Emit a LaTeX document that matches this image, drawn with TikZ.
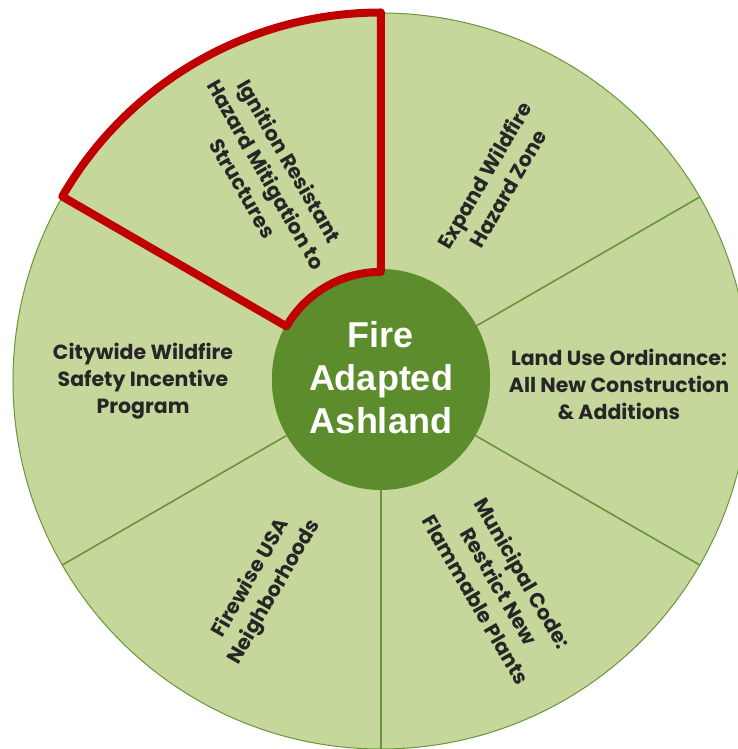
\documentclass[tikz,border=0pt]{standalone}
\usepackage{fontspec}
\setmainfont{Poppins}
\newfontfamily\hubfont{Liberation Sans}
\usepackage{xcolor}
\definecolor{leafgreen}{RGB}{197,215,155}
\definecolor{mossgreen}{RGB}{92,140,44}
\definecolor{spokegreen}{RGB}{104,150,58}
\definecolor{alertred}{RGB}{192,0,0}
\tikzset{
	x=1pt, y=1pt,
	rim/.style={circle, draw=spokegreen, line width=1pt, fill=leafgreen,
		minimum size=736pt, inner sep=0pt}, % the outer wheel
	hub/.style={circle, fill=mossgreen, minimum size=218pt, inner sep=0pt,
		text=white, align=center, font=\hubfont\bfseries\fontsize{36}{43}\selectfont},
	spoke/.style={draw=spokegreen, line width=1.6pt},
	topic/.style={align=center, text=black!85, font=\bfseries\fontsize{20.5}{27}\selectfont},
	highlight/.style={draw=alertred, line width=8pt, line join=round}, % marks the chosen sector
}

\begin{document}
\begin{tikzpicture}
	\useasboundingbox (-381,-368) rectangle (357,381);
	\clip (-381,-368) rectangle (357,381);

	\node[rim] (rim) at (0,0) {};
	\node[hub] (hub) at (0,0) {};
	\foreach \a in {90,30,-30,-90,-150,150}
		\draw[spoke] (hub.\a) -- (rim.\a);
	\node[hub] (core) at (0,3) {Fire\\Adapted\\Ashland};

	\draw[highlight] (rim.90) arc[start angle=90, end angle=150, radius=368]
		-- (hub.150) arc[start angle=150, end angle=90, radius=109] -- cycle;

	\node[topic, rotate=-60] (ignition) at (119:236) {Ignition Resistant\\Hazard Mitigation to\\Structures};
	\node[topic, rotate=60] (expand) at (60:230) {Expand Wildfire\\Hazard Zone};
	\node[topic] (landuse) at (238,-3) {Land Use Ordinance:\\All New Construction\\\& Additions};
	\node[topic, rotate=-60] (municipal) at (-60:237) {Municipal Code:\\Restrict New\\Flammable Plants};
	\node[topic, rotate=60] (firewise) at (-120:236) {Firewise USA\\Neighborhoods};
	\node[topic] (citywide) at (-238,0) {Citywide Wildfire\\Safety Incentive\\Program};
\end{tikzpicture}
\end{document}
